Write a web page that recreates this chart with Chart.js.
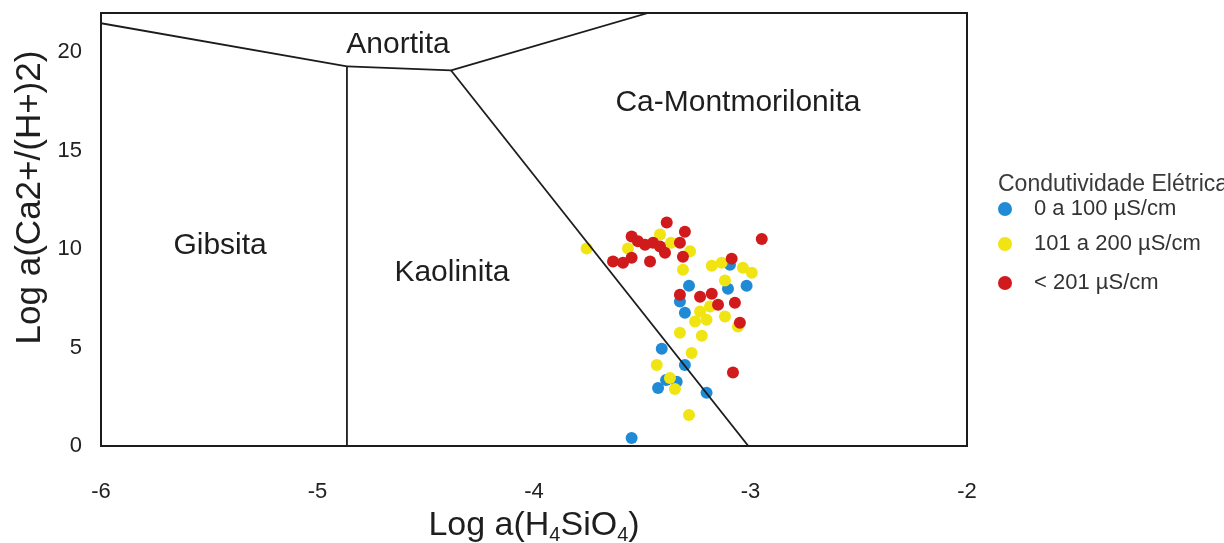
<!DOCTYPE html>
<html>
<head>
<meta charset="utf-8">
<script src="https://cdn.jsdelivr.net/npm/chart.js@4.4.1/dist/chart.umd.min.js"></script>
<style>
  body { margin: 0; background: #fff; }
  canvas { display: block; }
</style>
</head>
<body>
<canvas id="stabilityChart" width="1224" height="543"></canvas>
<script>
const xTicks = [-6, -5, -4, -3, -2];
const yTicks = [0, 5, 10, 15, 20];

// pontos por faixa de condutividade eletrica
const lowX  = [-3.095, -3.104, -3.018, -3.284, -3.326, -3.303, -3.410, -3.303, -3.341, -3.390, -3.427, -3.203, -3.549];
const lowY  = [9.21, 7.99, 8.14, 8.14, 7.34, 6.77, 4.94, 4.12, 3.27, 3.35, 2.95, 2.70, 0.41];
const midX  = [-3.757, -3.418, -3.566, -3.367, -3.279, -3.312, -3.179, -3.133, -3.035, -2.994, -3.118, -3.233,
               -3.187, -3.256, -3.203, -3.118, -3.058, -3.326, -3.225, -3.272, -3.433, -3.372, -3.349, -3.284];
const midY  = [10.03, 10.74, 10.03, 10.33, 9.89, 8.96, 9.16, 9.31, 9.06, 8.80, 8.41, 6.83,
               7.09, 6.33, 6.41, 6.58, 6.07, 5.75, 5.60, 4.73, 4.12, 3.46, 2.90, 1.58];
const highX = [-3.387, -3.303, -2.948, -3.549, -3.520, -3.487, -3.450, -3.418, -3.395, -3.326, -3.635, -3.589,
               -3.549, -3.464, -3.312, -3.087, -3.326, -3.233, -3.179, -3.150, -3.072, -3.049, -3.081];
const highY = [11.36, 10.89, 10.52, 10.65, 10.40, 10.23, 10.33, 10.14, 9.82, 10.33, 9.38, 9.31,
               9.57, 9.38, 9.62, 9.52, 7.68, 7.58, 7.74, 7.18, 7.28, 6.26, 3.73];

const seriesLabels = ["0 a 100 \u00b5S/cm", "101 a 200 \u00b5S/cm", "< 201 \u00b5S/cm"];

// limites dos campos de estabilidade
const gibsitaKaolinita = [[-4.864, 0], [-4.864, 19.29]];
const gibsitaAnortita = [[-6, 21.48], [-4.864, 19.29]];
const kaolinitaAnortita = [[-4.864, 19.29], [-4.383, 19.08]];
const anortitaMontmorilonita = [[-4.383, 19.08], [-3.473, 22]];
const kaolinitaMontmorilonita = [[-4.383, 19.08], [-3.01, 0]];

const regionNames = ["Anortita", "Ca-Montmorilonita", "Gibsita", "Kaolinita"];
const regionAt = [[-4.628, 20.41], [-3.058, 17.46], [-5.45, 10.18], [-4.379, 8.8]];

function toXY(xs, ys) { return xs.map((x, i) => ({ x: x, y: ys[i] })); }
function toLine(pairs) { return pairs.map((p) => ({ x: p[0], y: p[1] })); }

function boundary(pairs) {
  return {
    type: "line",
    data: toLine(pairs),
    borderColor: "#1c1c1c",
    borderWidth: 1.8,
    pointRadius: 0,
    showLine: true,
    fill: false,
    order: 0,
  };
}

function points(label, data, color, order) {
  return {
    label: label,
    data: data,
    backgroundColor: color,
    borderColor: color,
    borderWidth: 0,
    pointRadius: 6,
    legendItem: true,
    order: order,
  };
}

const frameAndText = {
  id: "frameAndText",
  afterDraw(chart) {
    const ctx = chart.ctx;
    const a = chart.chartArea;
    const xs = chart.scales.x, ys = chart.scales.y;
    ctx.save();

    // moldura
    ctx.strokeStyle = "#1c1c1c";
    ctx.lineWidth = 2;
    ctx.strokeRect(a.left, a.top, a.right - a.left, a.bottom - a.top);

    // nomes dos campos
    ctx.fillStyle = "#1e1e1e";
    ctx.font = "30px 'Liberation Sans', Arial, sans-serif";
    ctx.textAlign = "center";
    ctx.textBaseline = "middle";
    regionNames.forEach((name, i) => {
      ctx.fillText(name, xs.getPixelForValue(regionAt[i][0]), ys.getPixelForValue(regionAt[i][1]));
    });

    // titulo eixo y
    ctx.save();
    ctx.translate(a.left - 71, (a.top + a.bottom) / 2 - 32);
    ctx.rotate(-Math.PI / 2);
    ctx.font = "35px 'Liberation Sans', Arial, sans-serif";
    ctx.fillText("Log a(Ca2+/(H+)2)", 0, 0);
    ctx.restore();

    // titulo eixo x com subscritos
    const big = "34px 'Liberation Sans', Arial, sans-serif";
    const small = "20px 'Liberation Sans', Arial, sans-serif";
    const parts = [["Log a(H", big], ["4", small], ["SiO", big], ["4", small], [")", big]];
    let total = 0;
    parts.forEach((p) => { ctx.font = p[1]; total += ctx.measureText(p[0]).width; });
    let px = (a.left + a.right) / 2 - total / 2;
    const base = a.bottom + 89;
    ctx.textAlign = "left";
    ctx.textBaseline = "alphabetic";
    parts.forEach((p) => {
      ctx.font = p[1];
      ctx.fillText(p[0], px, p[1] === small ? base + 6 : base);
      px += ctx.measureText(p[0]).width;
    });

    // legenda
    const lx = a.right + 31;
    ctx.fillStyle = "#3a3a3a";
    ctx.font = "23px 'Liberation Sans', Arial, sans-serif";
    ctx.textBaseline = "middle";
    ctx.fillText("Condutividade El\u00e9trica", lx, a.top + 172);
    const items = chart.data.datasets.filter((d) => d.legendItem);
    const rowY = [a.top + 196, a.top + 231, a.top + 270];
    items.forEach((d, i) => {
      ctx.beginPath();
      ctx.fillStyle = d.backgroundColor;
      ctx.arc(lx + 7, rowY[i], 7, 0, Math.PI * 2);
      ctx.fill();
      ctx.fillStyle = "#333";
      ctx.font = "22px 'Liberation Sans', Arial, sans-serif";
      ctx.fillText(d.label, lx + 36, rowY[i]);
    });
    ctx.restore();
  },
};

const ctx = document.getElementById("stabilityChart").getContext("2d");
new Chart(ctx, {
  type: "scatter",
  data: {
    datasets: [
      boundary(gibsitaKaolinita),
      boundary(gibsitaAnortita),
      boundary(kaolinitaAnortita),
      boundary(anortitaMontmorilonita),
      boundary(kaolinitaMontmorilonita),
      points(seriesLabels[0], toXY(lowX, lowY), "#1f8bd6", 3),
      points(seriesLabels[1], toXY(midX, midY), "#f0e412", 2),
      points(seriesLabels[2], toXY(highX, highY), "#d01a1c", 1),
    ],
  },
  options: {
    responsive: false,
    animation: false,
    devicePixelRatio: 1,
    layout: { padding: { left: 0, top: 13, right: 257, bottom: 0 } },
    plugins: { legend: { display: false }, tooltip: { enabled: false } },
    scales: {
      x: {
        type: "linear",
        min: -6,
        max: -2,
        grid: { display: false, drawTicks: false },
        border: { display: false },
        afterFit: (s) => { s.height = 97; s.paddingLeft = 0; s.paddingRight = 0; },
        afterBuildTicks: (s) => { s.ticks = xTicks.map((v) => ({ value: v })); },
        ticks: { padding: 33, color: "#222", font: { size: 22, family: "'Liberation Sans', Arial, sans-serif" } },
      },
      y: {
        type: "linear",
        min: 0,
        max: 22,
        grid: { display: false, drawTicks: false },
        border: { display: false },
        afterFit: (s) => { s.width = 101; s.paddingTop = 0; s.paddingBottom = 0; },
        afterBuildTicks: (s) => { s.ticks = yTicks.map((v) => ({ value: v })); },
        ticks: { padding: 19, color: "#222", font: { size: 22, family: "'Liberation Sans', Arial, sans-serif" } },
      },
    },
  },
  plugins: [frameAndText],
});
</script>
</body>
</html>
